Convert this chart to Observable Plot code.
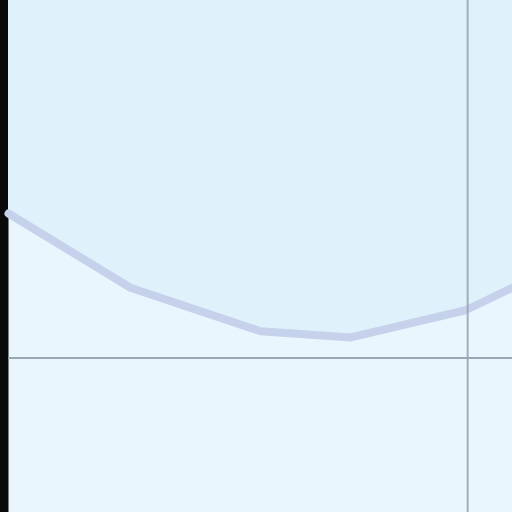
<!DOCTYPE html>
<html>
<head>
<meta charset="utf-8">
<script src="https://cdn.jsdelivr.net/npm/d3@7"></script>
<script src="https://cdn.jsdelivr.net/npm/@observablehq/plot@0.6"></script>
<style>
  html, body { margin: 0; padding: 0; background: #0a0a0a; }
  #chart svg { display: block; }
</style>
</head>
<body>
<div id="chart"></div>
<script>
// Data (notional units)
const xs = [0, 24.2, 50, 67.9, 90.7, 100];
const ys = [58.4, 43.9, 35.4, 34.2, 39.5, 43.9];
const hRule = [30.2];
const vRule = [91.1];

const data = xs.map((x, i) => ({x, y: ys[i]}));

const chart = Plot.plot({
  width: 512,
  height: 512,
  marginLeft: 8,
  marginRight: 0,
  marginTop: 0,
  marginBottom: 0,
  style: {background: "#0a0a0a"},
  x: {domain: [0, 100], axis: null},
  y: {domain: [0, 100], axis: null},
  marks: [
    Plot.frame({fill: "#eaf6fe", stroke: null}),
    Plot.areaY(data, {x: "x", y1: "y", y2: 100, fill: "#dff2fb"}),
    Plot.line(data, {x: "x", y: "y", stroke: "#c6d1eb", strokeWidth: 8, strokeLinejoin: "round"}),
    Plot.ruleY(hRule, {stroke: "#98a8b4", strokeWidth: 2}),
    Plot.ruleX(vRule, {stroke: "#98a8b4", strokeWidth: 2, strokeOpacity: 0.9})
  ]
});
document.getElementById("chart").appendChild(chart);
</script>
</body>
</html>
